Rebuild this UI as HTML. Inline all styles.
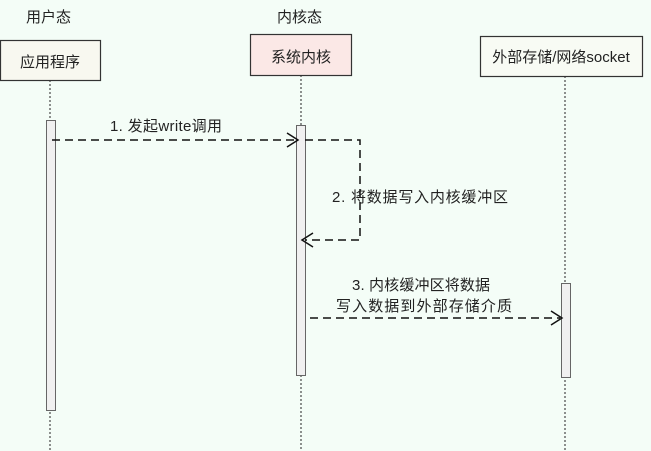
<!DOCTYPE html>
<html><head><meta charset="utf-8"><style>
body{margin:0;background:#f4fdf7;}
svg{display:block}
text{font-family:"Liberation Sans","Noto Sans CJK SC",sans-serif;fill:#222;font-size:15px}
</style></head><body>
<svg width="651" height="451" viewBox="0 0 651 451">
<rect width="651" height="451" fill="#f4fdf7"/>
<g stroke="#555" stroke-width="1.3" stroke-dasharray="2,2" fill="none">
<line x1="50" y1="80" x2="50" y2="451"/>
<line x1="301" y1="75" x2="301" y2="451"/>
<line x1="565" y1="76" x2="565" y2="451"/>
</g>
<rect x="0.5" y="40.5" width="100" height="40" fill="#f8f8f0" stroke="#333" stroke-width="1.2"/>
<rect x="250.5" y="34.5" width="101" height="41" fill="#fbe8e6" stroke="#333" stroke-width="1.2"/>
<rect x="480.5" y="36.5" width="162" height="40" fill="#f8fbf4" stroke="#333" stroke-width="1.2"/>
<text x="26" y="22">用户态</text>
<text x="277" y="22">内核态</text>
<text x="50" y="67" text-anchor="middle" font-size="16">应用程序</text>
<text x="301" y="62" text-anchor="middle" font-size="16">系统内核</text>
<text x="561" y="62" text-anchor="middle" font-size="15">外部存储/网络socket</text>
<g fill="#f0f0f0" stroke="#666" stroke-width="1">
<rect x="46.5" y="120.5" width="9" height="290"/>
<rect x="296.5" y="125.5" width="9" height="250"/>
<rect x="561.5" y="283.5" width="9" height="94"/>
</g>
<g stroke="#111" stroke-width="1.5" fill="none" stroke-dasharray="8,5">
<line x1="52" y1="140" x2="296" y2="140"/>
<polyline points="305,140 360,140 360,240 305,240"/>
<line x1="310" y1="318" x2="560" y2="318"/>
</g>
<g stroke="#111" stroke-width="1.5" fill="none">
<polyline points="287,133 298,140 287,147"/>
<polyline points="313,233 302,240 313,247"/>
<polyline points="551,311 562,318 551,325"/>
</g>
<text x="110" y="131" textLength="112">1. 发起write调用</text>
<text x="332" y="202" textLength="176">2. 将数据写入内核缓冲区</text>
<text x="352" y="290" textLength="138">3. 内核缓冲区将数据</text>
<text x="336" y="311" textLength="176">写入数据到外部存储介质</text>
</svg>
</body></html>
